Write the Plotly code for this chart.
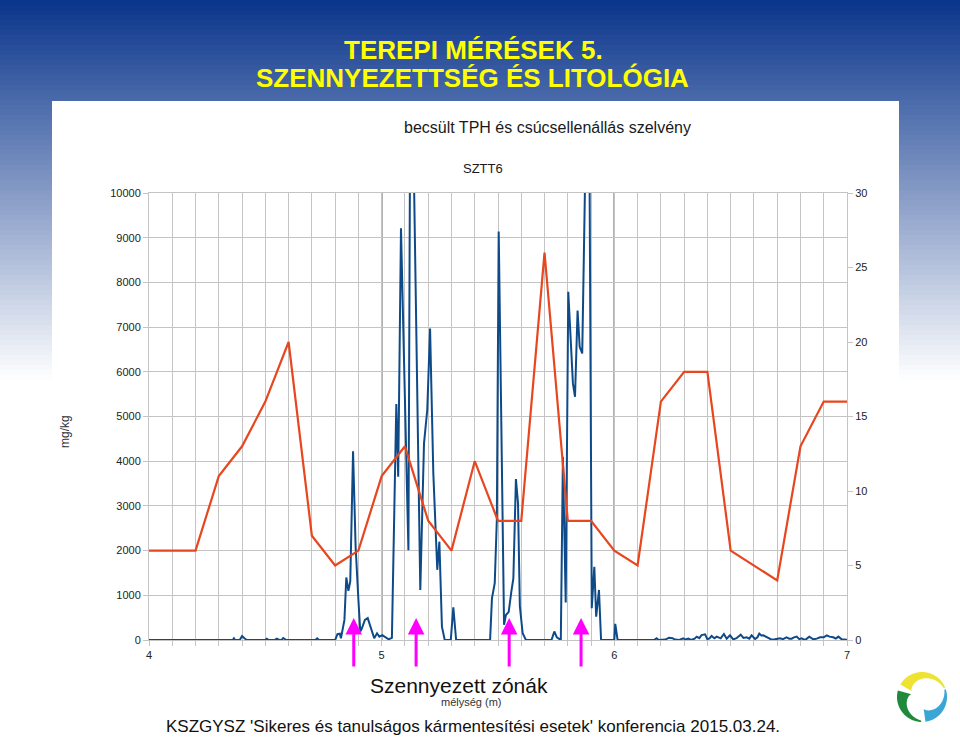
import math
import plotly.graph_objects as go

# ---------------- data ----------------
# estimated TPH (mg/kg, left axis) along depth (m)
tph_depth = [
    4.00, 4.36, 4.365, 4.37, 4.39, 4.40, 4.41, 4.42, 4.50, 4.506, 4.515, 4.54, 4.549, 4.56,
    4.57, 4.577, 4.59, 4.715, 4.723, 4.73, 4.80, 4.81, 4.82, 4.825, 4.84, 4.848, 4.857,
    4.865, 4.877, 4.888, 4.90, 4.908, 4.915, 4.928, 4.94, 4.951, 4.968, 4.98, 4.99, 5.003,
    5.014, 5.03, 5.044, 5.063, 5.071, 5.083, 5.115, 5.125, 5.166, 5.182, 5.196, 5.208,
    5.222, 5.233, 5.239, 5.248, 5.252, 5.259, 5.271, 5.297, 5.308, 5.32, 5.466, 5.474,
    5.486, 5.495, 5.503, 5.526, 5.534, 5.546, 5.557, 5.566, 5.577, 5.586, 5.594, 5.606,
    5.62, 5.73, 5.742, 5.753, 5.77, 5.779, 5.791, 5.802, 5.822, 5.831, 5.842, 5.851, 5.862,
    5.883, 5.891, 5.903, 5.914, 5.922, 5.934, 5.943, 6.00, 6.004, 6.014, 6.17, 6.182, 6.19,
    6.22, 6.235, 6.25, 6.26, 6.28, 6.296, 6.305, 6.318, 6.33, 6.345, 6.354, 6.365, 6.375,
    6.39, 6.40, 6.41, 6.418, 6.43, 6.44, 6.457, 6.471, 6.483, 6.497, 6.511, 6.525, 6.543,
    6.555, 6.569, 6.58, 6.59, 6.605, 6.615, 6.623, 6.632, 6.64, 6.655, 6.665, 6.676, 6.69,
    6.70, 6.712, 6.725, 6.74, 6.752, 6.762, 6.772, 6.784, 6.795, 6.805, 6.815, 6.825, 6.838,
    6.855, 6.87, 6.884, 6.90, 6.913, 6.925, 6.941, 6.952, 6.963, 6.977, 6.99, 7.00,
]
tph_mgkg = [
    0, 0, 40, 0, 0, 90, 40, 0, 0, 30, 0, 0, 30, 0,
    0, 45, 0, 0, 37, 0, 0, 130, 140, 40, 450, 1400, 1100,
    1310, 4220, 2090, 900, 190, 260, 450, 490, 300, 40, 150, 75, 110,
    75, 15, 50, 5280, 3650, 9210, 2010, 15000, 1120, 4400, 5150, 6970,
    3730, 2090, 1570, 2200, 1640, 300, 0, 0, 730, 0, 0, 930,
    1270, 2700, 9140, 340, 560, 630, 1070, 1380, 3600, 3060, 750, 150,
    0, 0, 190, 60, 0, 4100, 840, 7790, 5740, 5440, 7370, 6560, 6410,
    13000, 13000, 710, 1640, 520, 1120, 0, 0, 360, 0, 0, 37, 0,
    10, 52, 40, 10, 0, 37, 10, 30, 0, 30, 75, 40, 110,
    127, 15, 40, 90, 40, 75, 37, 135, 30, 105, 15, 40, 120,
    45, 60, 30, 105, 22, 60, 142, 100, 105, 60, 40, 8, 15,
    30, 37, 20, 60, 30, 30, 60, 75, 20, 37, 10, 20, 75,
    15, 30, 60, 60, 105, 75, 60, 30, 75, 15, 10, 8,
]

# cone (tip) resistance, right axis
cpt_depth = [4.0, 4.1, 4.2, 4.3, 4.4, 4.5, 4.6, 4.7, 4.8, 4.9, 5.0, 5.1, 5.2, 5.3, 5.4, 5.5,
             5.6, 5.7, 5.8, 5.9, 6.0, 6.1, 6.2, 6.3, 6.4, 6.5, 6.6, 6.7, 6.8, 6.9, 7.0]
cpt_value = [6, 6, 6, 11, 13, 16, 20, 7, 5, 6, 11, 13, 8, 6, 12, 8,
             8, 26, 8, 8, 6, 5, 16, 18, 18, 6, 5, 4, 13, 16, 16]

zone_arrows = [4.88, 5.148, 5.548, 5.857]   # depths of contaminated zones
x_ticks = [4, 5, 6, 7]
major_lines = [5, 6]

# ---------------- geometry helpers ----------------
W, H = 960, 737
PL, PR, PT, PB = 149, 847, 193, 640


def fx(x):
    return (x - PL) / (PR - PL)


def fy(y):
    return (PB - y) / (PB - PT)


FONT = "Liberation Sans, Arial, sans-serif"
GRID = "#c4c4c4"

fig = go.Figure()
fig.add_trace(go.Scatter(x=tph_depth, y=tph_mgkg, mode="lines",
                         line=dict(color="#0E4A88", width=2), yaxis="y",
                         showlegend=False, hoverinfo="skip"))
fig.add_trace(go.Scatter(x=cpt_depth, y=cpt_value, mode="lines",
                         line=dict(color="#E8461E", width=2.2), yaxis="y2",
                         showlegend=False, hoverinfo="skip"))

shapes = []
# slide gradient background
band = 5
for i in range(0, 400, band):
    f = min(1.0, (i + band / 2) / 380.0)
    c = "rgb(%d,%d,%d)" % (10 + 245 * f, 53 + 202 * f, 140 + 115 * f)
    shapes.append(dict(type="rect", xref="paper", yref="paper", layer="below",
                       x0=fx(0), x1=fx(W), y0=fy(i + band + 1), y1=fy(i),
                       fillcolor=c, line=dict(width=0)))
# white chart panel
shapes.append(dict(type="rect", xref="paper", yref="paper", layer="below",
                   x0=fx(52), x1=fx(899), y0=fy(H), y1=fy(101),
                   fillcolor="white", line=dict(width=0)))
# dark vertical lines at whole metres
for m in major_lines:
    shapes.append(dict(type="line", xref="x", yref="paper", layer="between",
                       x0=m, x1=m, y0=0, y1=1, line=dict(color="#111111", width=1.3)))


# logo (three swirl blades)
def blade(a0, a1, t0, t1, color, cx=922, cy=697, R=25):
    n = 36
    outer, inner = [], []
    for k in range(n + 1):
        s = k / n
        a = math.radians(a0 + (a1 - a0) * s)
        t = t0 + (t1 - t0) * (s ** 0.8)
        outer.append((cx + R * math.cos(a), cy - R * math.sin(a)))
        inner.append((cx + (R - t) * math.cos(a), cy - (R - t) * math.sin(a)))
    pts = outer + inner[::-1]
    path = "M " + " L ".join("%.5f,%.5f" % (fx(x), fy(y)) for x, y in pts) + " Z"
    return dict(type="path", xref="paper", yref="paper", path=path,
                fillcolor=color, line=dict(width=0), layer="above")


shapes.append(blade(150, 22, 13, 1.5, "#EDE330"))
shapes.append(blade(165, 268, 14, 1.5, "#1F8A3C"))
shapes.append(blade(-82, 18, 13, 1.5, "#3BA6D6"))

annotations = []


def text(t, x, y, size, color="#222", bold=False, angle=0):
    annotations.append(dict(text=t, x=fx(x), y=fy(y), xref="paper", yref="paper",
                            showarrow=False, xanchor="center", yanchor="middle",
                            textangle=angle,
                            font=dict(family=FONT, size=size, color=color,
                                      weight="bold" if bold else "normal")))


text("TEREPI MÉRÉSEK 5.", 473, 50, 26, color="#FFFF00", bold=True)
text("SZENNYEZETTSÉG ÉS LITOLÓGIA", 472, 78, 26, color="#FFFF00", bold=True)
text("becsült TPH és csúcsellenállás szelvény", 547, 127, 16, color="#1a1a1a")
text("SZTT6", 483, 168, 13, color="#1a1a1a")
text("mg/kg", 65, 432, 12, color="#333", angle=-90)
text("Szennyezett zónák", 459, 685, 21, color="#111")
text("mélység (m)", 471, 702, 11, color="#333")
text("KSZGYSZ 'Sikeres és tanulságos kármentesítési esetek' konferencia 2015.03.24.",
     473, 726, 17, color="#111")

for d in zone_arrows:
    annotations.append(dict(text="", x=d, y=fy(618), xref="x", yref="paper",
                            showarrow=True, ax=0, ay=50, axref="pixel", ayref="pixel",
                            arrowhead=2, arrowsize=1.1, arrowwidth=3,
                            arrowcolor="#FF00FF"))

fig.update_layout(
    width=W, height=H,
    margin=dict(l=PL, r=W - PR, t=PT, b=H - PB, pad=0),
    paper_bgcolor="white", plot_bgcolor="rgba(0,0,0,0)",
    font=dict(family=FONT, size=11, color="#222"),
    shapes=shapes, annotations=annotations,
    xaxis=dict(range=[4, 7], tickvals=x_ticks, ticktext=[str(v) for v in x_ticks],
               showgrid=False, zeroline=False, showline=True, linecolor=GRID,
               linewidth=1, mirror=True, ticks="outside", ticklen=5, tickcolor=GRID,
               tickfont=dict(size=11, color="#222"),
               minor=dict(dtick=0.1, tick0=4, showgrid=True, gridcolor=GRID,
                          gridwidth=1, ticks="outside", ticklen=5, tickcolor=GRID)),
    yaxis=dict(range=[0, 10000], dtick=1000, tickformat="d", showgrid=True,
               gridcolor=GRID, gridwidth=1,
               zeroline=False, showline=True, linecolor=GRID, ticks="outside",
               ticklen=5, tickcolor=GRID, tickfont=dict(size=11, color="#222")),
    yaxis2=dict(range=[0, 30], dtick=5, overlaying="y", side="right", showgrid=False,
                zeroline=False, showline=True, linecolor=GRID, ticks="outside",
                ticklen=5, tickcolor=GRID, tickfont=dict(size=11, color="#222")),
)

fig.write_html("out.html")
